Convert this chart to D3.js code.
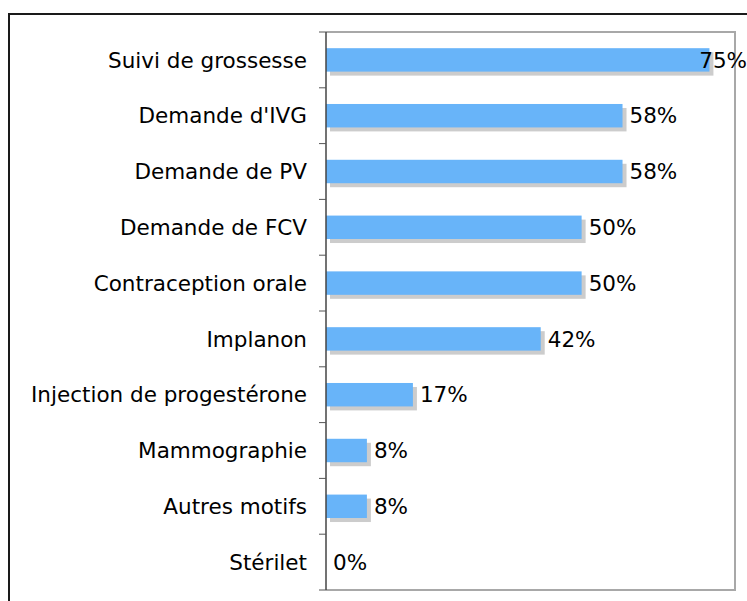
<!DOCTYPE html>
<html>
<head>
<meta charset="utf-8">
<script src="https://cdn.jsdelivr.net/npm/d3@7"></script>
<style>
  html, body { margin: 0; padding: 0; background: #fff; }
  svg { display: block; }
</style>
</head>
<body>
<svg id="chart" width="747" height="601"></svg>
<script>
// Motifs de consultation (pourcentage des répondants)
const categories = [
  "Suivi de grossesse",
  "Demande d'IVG",
  "Demande de PV",
  "Demande de FCV",
  "Contraception orale",
  "Implanon",
  "Injection de progestérone",
  "Mammographie",
  "Autres motifs",
  "Stérilet"
];
const values = [75, 58, 58, 50, 50, 42, 17, 8, 8, 0];
const xDomain = [0, 80];

const W = 747, H = 601;
const plot = { left: 326, top: 32, right: 735, bottom: 590 };
const font = "'DejaVu Sans', Verdana, sans-serif";
const fontSize = 21.5;

const svg = d3.select("#chart");

// outer frame (top and left edges visible)
svg.append("path")
  .attr("d", `M9,${H} L9,14 L${W},14`)
  .attr("fill", "none")
  .attr("stroke", "#1a1a1a")
  .attr("stroke-width", 2);

const x = d3.scaleLinear().domain(xDomain).range([plot.left, plot.right]);
const y = d3.scaleBand()
  .domain(categories)
  .range([plot.top, plot.bottom])
  .paddingInner(0.58)
  .paddingOuter(0.29);

// plot area border (top, right, bottom)
svg.append("path")
  .attr("d", `M${plot.left},${plot.top} L${plot.right},${plot.top} L${plot.right},${plot.bottom} L${plot.left},${plot.bottom}`)
  .attr("fill", "none")
  .attr("stroke", "#a8a8a8")
  .attr("stroke-width", 2);

const rows = categories.map((c, i) => ({ cat: c, val: values[i] }));

// bar shadows
svg.append("g").selectAll("rect")
  .data(rows.filter(d => d.val > 0))
  .join("rect")
  .attr("x", x(0) + 4)
  .attr("y", d => y(d.cat) + 4)
  .attr("width", d => x(d.val) - x(0))
  .attr("height", y.bandwidth())
  .attr("fill", "#cccccc");

// bars
svg.append("g").selectAll("rect")
  .data(rows.filter(d => d.val > 0))
  .join("rect")
  .attr("x", x(0))
  .attr("y", d => y(d.cat))
  .attr("width", d => x(d.val) - x(0))
  .attr("height", y.bandwidth())
  .attr("fill", "#68b4f9");

// category axis with ticks at band boundaries
const axisG = svg.append("g");
axisG.append("line")
  .attr("x1", plot.left).attr("x2", plot.left)
  .attr("y1", plot.top).attr("y2", plot.bottom)
  .attr("stroke", "#444").attr("stroke-width", 1.5);
const step = y.step();
const bounds = d3.range(categories.length + 1).map(i => y(categories[0]) - y.paddingOuter() * step + i * step);
axisG.selectAll("line.tick")
  .data(bounds)
  .join("line")
  .attr("class", "tick")
  .attr("x1", plot.left - 7).attr("x2", plot.left)
  .attr("y1", d => d).attr("y2", d => d)
  .attr("stroke", "#555").attr("stroke-width", 1);

axisG.selectAll("text")
  .data(categories)
  .join("text")
  .attr("x", plot.left - 19)
  .attr("y", d => y(d) + y.bandwidth() / 2)
  .attr("dy", "0.36em")
  .attr("text-anchor", "end")
  .attr("font-family", font)
  .attr("font-size", fontSize)
  .attr("fill", "#000")
  .text(d => d);

// value labels
const labels = svg.append("g").selectAll("text")
  .data(rows)
  .join("text")
  .attr("y", d => y(d.cat) + y.bandwidth() / 2)
  .attr("dy", "0.36em")
  .attr("font-family", font)
  .attr("font-size", fontSize)
  .attr("fill", "#000")
  .text(d => d.val + "%");

labels.each(function(d) {
  const w = this.getComputedTextLength();
  const pos = Math.min(x(d.val) + 7, W - w);
  d3.select(this).attr("x", pos);
});
</script>
</body>
</html>
